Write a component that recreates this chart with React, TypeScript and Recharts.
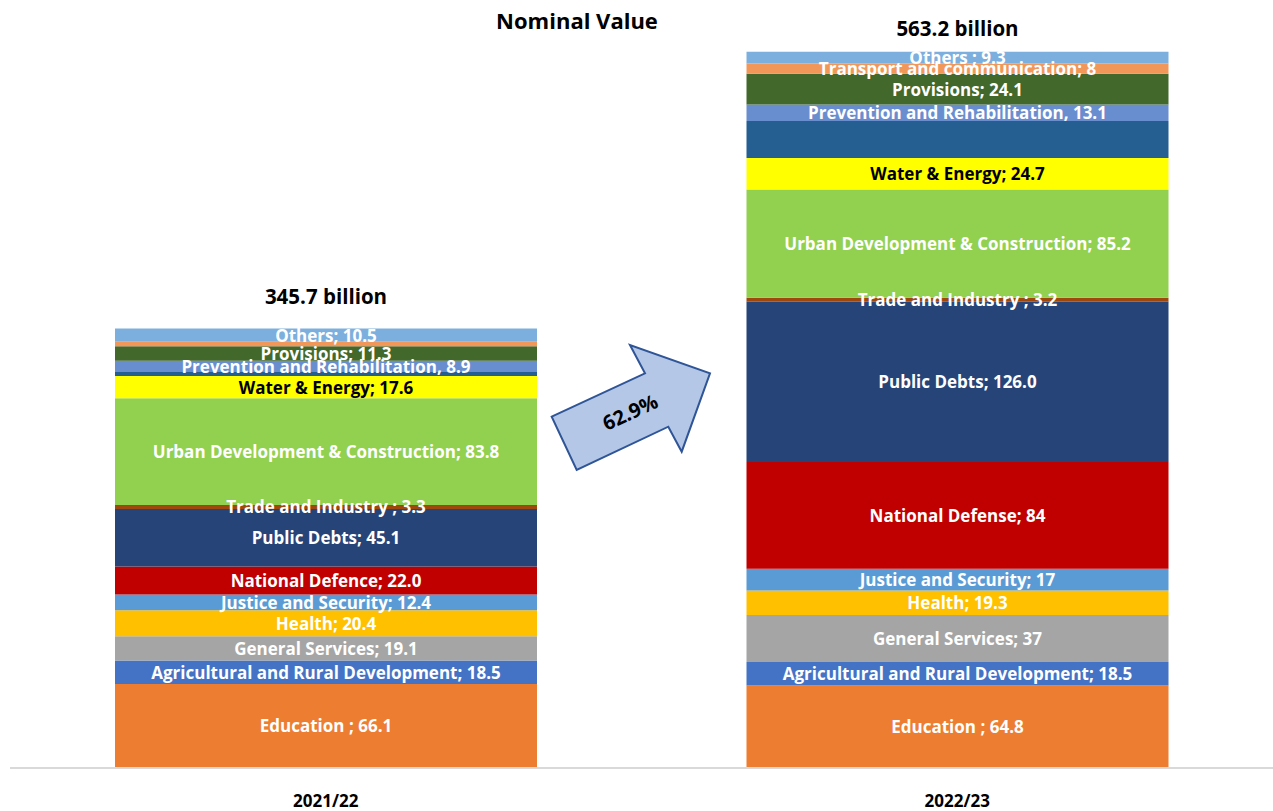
import React from "react";
import { BarChart, Bar, XAxis, YAxis, LabelList } from "recharts";

const years = ["2021/22", "2022/23"];
const totals = ["345.7 billion", "563.2 billion"];
const growthLabel = "62.9%";
const title = "Nominal Value";

const education = [66.1, 64.8];
const agriculture = [18.5, 18.5];
const generalServices = [19.1, 37];
const health = [20.4, 19.3];
const justice = [12.4, 17];
const defence = [22.0, 84];
const publicDebts = [45.1, 126.0];
const trade = [3.3, 3.2];
const urban = [83.8, 85.2];
const water = [17.6, 24.7];
const unlabeled = [3.1, 29.0];
const prevention = [8.9, 13.1];
const provisions = [11.3, 24.1];
const transport = [3.6, 8];
const others = [10.5, 9.3];

const educationLabels = ["Education ; 66.1", "Education ; 64.8"];
const agricultureLabels = ["Agricultural and Rural Development; 18.5", "Agricultural and Rural Development; 18.5"];
const generalLabels = ["General Services; 19.1", "General Services; 37"];
const healthLabels = ["Health; 20.4", "Health; 19.3"];
const justiceLabels = ["Justice and Security; 12.4", "Justice and Security; 17"];
const defenceLabels = ["National Defence; 22.0", "National Defense; 84"];
const debtLabels = ["Public Debts; 45.1", "Public Debts; 126.0"];
const tradeLabels = ["Trade and Industry ; 3.3", "Trade and Industry ; 3.2"];
const urbanLabels = ["Urban Development & Construction; 83.8", "Urban Development & Construction; 85.2"];
const waterLabels = ["Water & Energy; 17.6", "Water & Energy; 24.7"];
const unlabeledLabels = ["", ""];
const preventionLabels = ["Prevention and Rehabilitation, 8.9", "Prevention and Rehabilitation, 13.1"];
const provisionsLabels = ["Provisions; 11.3", "Provisions; 24.1"];
const transportLabels = ["", "Transport and communication; 8"];
const othersLabels = ["Others; 10.5", "Others ; 9.3"];

const series = [
  { key: "education", values: education, labels: educationLabels, color: "#ED7D31", text: "#fff" },
  { key: "agriculture", values: agriculture, labels: agricultureLabels, color: "#4472C4", text: "#fff" },
  { key: "general", values: generalServices, labels: generalLabels, color: "#A5A5A5", text: "#fff" },
  { key: "health", values: health, labels: healthLabels, color: "#FFC000", text: "#fff" },
  { key: "justice", values: justice, labels: justiceLabels, color: "#5B9BD5", text: "#fff" },
  { key: "defence", values: defence, labels: defenceLabels, color: "#C00000", text: "#fff" },
  { key: "debts", values: publicDebts, labels: debtLabels, color: "#264478", text: "#fff" },
  { key: "trade", values: trade, labels: tradeLabels, color: "#9E480E", text: "#fff" },
  { key: "urban", values: urban, labels: urbanLabels, color: "#92D050", text: "#fff" },
  { key: "water", values: water, labels: waterLabels, color: "#FFFF00", text: "#000" },
  { key: "unlabeled", values: unlabeled, labels: unlabeledLabels, color: "#255E91", text: "#fff" },
  { key: "prevention", values: prevention, labels: preventionLabels, color: "#698ED0", text: "#fff" },
  { key: "provisions", values: provisions, labels: provisionsLabels, color: "#43682B", text: "#fff" },
  { key: "transport", values: transport, labels: transportLabels, color: "#F1975A", text: "#fff" },
  { key: "others", values: others, labels: othersLabels, color: "#7CAFDD", text: "#fff" },
];

const data = years.map((year, i) => {
  const row: Record<string, string | number> = { year };
  series.forEach((s) => {
    row[s.key] = s.values[i];
  });
  return row;
});

const FONT = "'Open Sans', 'Noto Sans', sans-serif";

const totalOffsets = [32, 24];

const Tick = (props: any) => {
  const { x, y, payload } = props;
  return (
    <text x={x} y={y} dy={24} textAnchor="middle" dominantBaseline="central" fontFamily={FONT} fontWeight={700} fontSize={17} fill="#000">
      {payload.value}
    </text>
  );
};

export default function App() {
  return (
    <div style={{ position: "absolute", left: 0, top: 0, width: 1273, height: 811, background: "#fff" }}>
      <BarChart width={1273} height={811} data={data} margin={{ top: 5, right: 0, left: 10, bottom: 0 }} barSize={422}>
        <XAxis dataKey="year" height={43} tickLine={false} axisLine={{ stroke: "#d9d9d9", strokeWidth: 2 }} tick={<Tick />} interval={0} />
        <YAxis hide domain={[0, 600]} />
        {series.map((s) => (
          <Bar key={s.key} dataKey={s.key} stackId="a" fill={s.color} isAnimationActive={false}>
            <LabelList
              dataKey={s.key}
              content={(p: any) => {
                const { x, y, width, height, index } = p;
                const txt = s.labels[index];
                if (!txt) return null;
                return (
                  <text x={x + width / 2} y={y + height / 2} textAnchor="middle" dominantBaseline="central" fontFamily={FONT} fontWeight={700} fontSize={17} fill={s.text}>
                    {txt}
                  </text>
                );
              }}
            />
            {s.key === "others" && (
              <LabelList
                dataKey={s.key}
                content={(p: any) => {
                  const { x, y, width, index } = p;
                  return (
                    <text x={x + width / 2} y={y - totalOffsets[index]} textAnchor="middle" dominantBaseline="central" fontFamily={FONT} fontWeight={700} fontSize={20.5} fill="#000">
                      {totals[index]}
                    </text>
                  );
                }}
              />
            )}
          </Bar>
        ))}
      </BarChart>
      <svg width={1273} height={811} style={{ position: "absolute", left: 0, top: 0, pointerEvents: "none" }}>
        <text x={577} y={20} textAnchor="middle" dominantBaseline="central" fontFamily={FONT} fontWeight={700} fontSize={22} fill="#000">
          {title}
        </text>
        <polygon
          points="551.7,416.7 645,373.3 630,345 710,373.3 681.7,451.7 668.3,426.7 576.7,470"
          fill="#B4C7E7"
          stroke="#2F5597"
          strokeWidth={2}
        />
        <text x={630} y={412} textAnchor="middle" dominantBaseline="central" fontFamily={FONT} fontWeight={700} fontSize={20} fill="#000" transform="rotate(-25 630 412)">
          {growthLabel}
        </text>
      </svg>
    </div>
  );
}
